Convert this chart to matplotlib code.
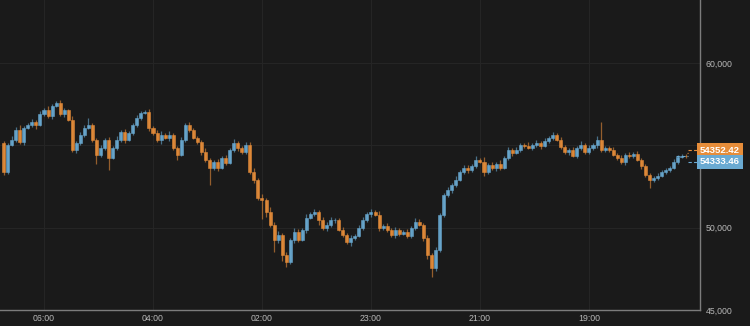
import matplotlib
matplotlib.use('Agg')
import matplotlib.pyplot as plt
from matplotlib import transforms
import numpy as np

# candle closes, left to right (price)
closes = [
    53400, 55040, 55350, 55950, 55220, 56080, 56260, 56440, 56250, 56930,
    57170, 56800, 57410, 57590, 56920, 57160, 56560, 54740, 55160, 55650,
    56070, 56260, 55340, 54430, 54860, 55350, 54250, 54870, 55340, 55830,
    55350, 55770, 56250, 56680, 56990, 57050, 56070, 55770, 55340, 55650,
    55470, 55660, 54860, 54440, 55350, 56260, 55950, 55460, 55230, 54620,
    54130, 53650, 54010, 53640, 54250, 53950, 54740, 55160, 54860, 54610,
    55040, 53400, 52920, 51820, 51700, 50970, 50180, 49270, 49580, 48360,
    47940, 49270, 49760, 49280, 49880, 50610, 50850, 50970, 50490, 50000,
    50180, 50480, 50490, 49880, 49570, 49150, 49390, 49510, 50010, 50490,
    50850, 50970, 50790, 50000, 50120, 49880, 49570, 49870, 49640, 49760,
    49510, 50000, 50360, 50180, 49390, 48360, 47570, 48660, 50790, 52000,
    52310, 52610, 52920, 53400, 53650, 53520, 53770, 54130, 54010, 53400,
    53830, 53640, 53890, 53650, 54250, 54740, 54560, 54730, 55040, 54980,
    54860, 55050, 55160, 54990, 55290, 55470, 55650, 55350, 54920, 54620,
    54740, 54370, 54860, 55040, 54610, 54870, 55030, 55350, 54740, 54860,
    54730, 54440, 54250, 54010, 54430, 54370, 54500, 54130, 53770, 53220,
    52920, 53040, 53160, 53400, 53520, 53640, 54010, 54310, 54380, 54352.42,
]
first_open = 55160

# wick length above / below the body (price)
wick_up = [
    120, 90, 200, 150, 300, 80, 120, 180, 90, 150,
    100, 250, 130, 90, 150, 120, 80, 200, 110, 160,
    140, 430, 90, 120, 180, 100, 150, 90, 200, 130,
    160, 120, 90, 140, 100, 110, 180, 90, 150, 250,
    120, 200, 90, 130, 180, 110, 150, 90, 120, 100,
    200, 90, 130, 160, 110, 140, 100, 200, 120, 90,
    150, 180, 240, 120, 200, 90, 300, 150, 220, 110,
    180, 90, 200, 150, 120, 240, 100, 160, 90, 130,
    150, 200, 110, 90, 140, 120, 180, 100, 150, 130,
    110, 160, 90, 200, 120, 140, 100, 180, 90, 130,
    150, 110, 200, 140, 90, 160, 120, 180, 130, 100,
    140, 120, 200, 90, 180, 150, 100, 250, 120, 300,
    110, 160, 90, 200, 130, 180, 100, 150, 120, 90,
    200, 110, 140, 90, 160, 120, 180, 100, 150, 130,
    90, 160, 120, 200, 110, 150, 140, 250, 1090, 100,
    130, 180, 90, 160, 120, 140, 100, 150, 110, 90,
    120, 90, 150, 100, 130, 110, 160, 90, 120, 80,
]
wick_dn = [
    200, 120, 90, 150, 110, 180, 100, 130, 250, 90,
    140, 110, 180, 90, 130, 200, 100, 150, 220, 120,
    160, 90, 140, 550, 110, 130, 730, 100, 150, 120,
    180, 90, 130, 110, 150, 100, 200, 120, 140, 250,
    110, 180, 130, 300, 90, 150, 120, 100, 160, 200,
    140, 1030, 120, 180, 100, 150, 90, 130, 200, 110,
    160, 120, 200, 150, 1200, 300, 130, 730, 180, 400,
    300, 120, 200, 150, 110, 180, 90, 140, 300, 120,
    180, 130, 200, 110, 160, 120, 250, 140, 100, 150,
    130, 180, 100, 200, 120, 150, 110, 180, 140, 100,
    160, 120, 150, 100, 200, 250, 550, 180, 120, 140,
    110, 200, 130, 90, 150, 180, 120, 160, 100, 250,
    130, 110, 200, 150, 90, 120, 180, 100, 140, 160,
    110, 150, 120, 200, 90, 130, 170, 110, 150, 120,
    180, 100, 140, 120, 160, 110, 130, 200, 150, 120,
    140, 110, 160, 130, 200, 120, 150, 100, 180, 140,
    490, 130, 150, 110, 140, 120, 100, 150, 90, 110,
]

tick_idx = [10, 37, 64, 91, 118, 145]
tick_labels = ['06:00', '04:00', '02:00', '23:00', '21:00', '19:00']
y_ticks = [45000, 50000, 55000, 60000]
last_a = 54352.42
last_b = 54333.46

BG = '#1a1a1a'
UP = '#6aaad2'
DN = '#e68d3a'
GRID = '#252525'
TXT = '#b8b8b8'

plt.rcParams['font.family'] = ['Liberation Sans', 'DejaVu Sans']

fig = plt.figure(figsize=(7.5, 3.26), dpi=100, facecolor=BG)
ax = fig.add_axes([0, 0.049, 0.9333, 0.951], facecolor=BG)

closes = np.array(closes)
opens = np.concatenate([[first_open], closes[:-1]])
top = np.maximum(opens, closes)
bot = np.minimum(opens, closes)
highs = top + np.array(wick_up)
lows = bot - np.array(wick_dn)
x = np.arange(len(closes))
cols = [UP if c >= o else DN for o, c in zip(opens, closes)]

ax.vlines(x, lows, highs, colors=cols, linewidth=0.9, alpha=0.6, zorder=2)
ax.bar(x, top - bot, bottom=bot, width=0.75, color=cols, edgecolor=cols,
       linewidth=0.4, alpha=0.92, zorder=3)

ax.set_xlim(-0.9, 172.5)
ax.set_ylim(45000, 63830)

ax.set_xticks(tick_idx)
ax.set_xticklabels(tick_labels)
ax.set_yticks(y_ticks)
ax.set_yticklabels(['{:,}'.format(v) for v in y_ticks])
ax.yaxis.tick_right()
ax.tick_params(axis='both', length=0, colors=TXT, labelsize=6.3)
ax.tick_params(axis='x', pad=3)
ax.tick_params(axis='y', pad=4)
ax.grid(True, color=GRID, linewidth=0.8, zorder=0)

for s in ['top', 'left']:
    ax.spines[s].set_visible(False)
for s in ['right', 'bottom']:
    ax.spines[s].set_color('#7c7c7c')
    ax.spines[s].set_linewidth(1.0)

# last price markers
trans = transforms.blended_transform_factory(ax.transAxes, ax.transData)
ya = transforms.offset_copy(trans, fig=fig, x=0, y=4, units='points')
yb = transforms.offset_copy(trans, fig=fig, x=0, y=-4, units='points')
ax.plot([0.983, 1.0], [last_a, last_a], transform=ya, color=DN, lw=0.8,
        ls=(0, (3, 2)), clip_on=False, zorder=4)
ax.plot([0.983, 1.0], [last_b, last_b], transform=yb, color=UP, lw=0.8,
        ls=(0, (3, 2)), clip_on=False, zorder=4)
ax.plot([0.966, 0.983], [last_b, last_b], color=UP, lw=0.8,
        ls=(0, (3, 2)), transform=trans, clip_on=False, zorder=4)
ax.annotate('', xy=(0.983, last_b), xycoords=trans,
            xytext=(0.983, last_a), textcoords=ya,
            arrowprops=dict(arrowstyle='-', color=DN, lw=0.8, ls=(0, (2, 2))))

ax.text(1.0, last_a, '{:.2f}'.format(last_a), transform=ya, ha='left',
        va='center', color='white', fontsize=6.8, fontweight='bold',
        bbox=dict(boxstyle='square,pad=0.3', fc=DN, ec='none'),
        clip_on=False, zorder=6)
ax.text(1.0, last_b, '{:.2f}'.format(last_b), transform=yb, ha='left',
        va='center', color='white', fontsize=6.8, fontweight='bold',
        bbox=dict(boxstyle='square,pad=0.3', fc=UP, ec='none'),
        clip_on=False, zorder=6)

fig.savefig('out.png', dpi=100, facecolor=BG)
